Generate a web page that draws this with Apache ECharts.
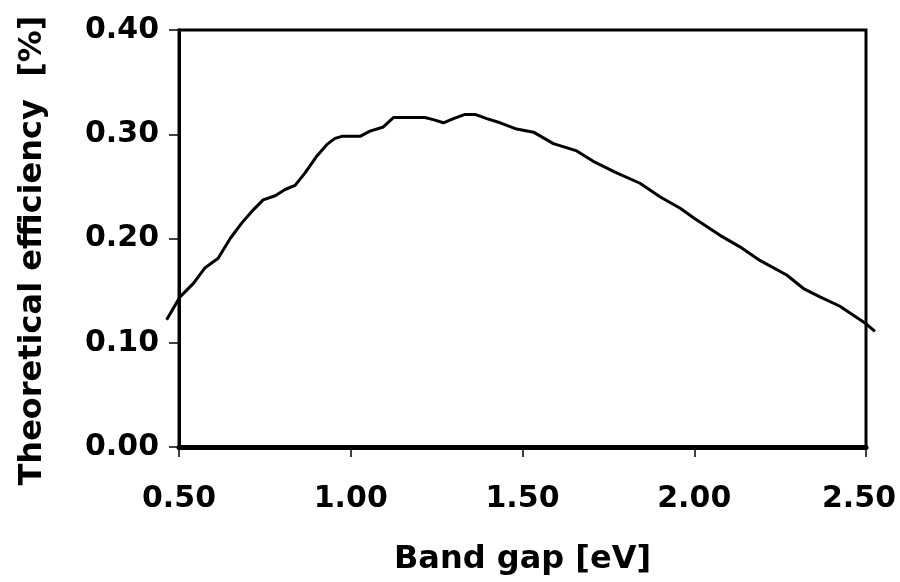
<!DOCTYPE html>
<html>
<head>
<meta charset="utf-8">
<script src="https://cdn.jsdelivr.net/npm/echarts@6/dist/echarts.min.js"></script>
<style>
html,body{margin:0;padding:0;background:#fff;}
#chart{width:900px;height:582px;}
</style>
</head>
<body>
<div id="chart"></div>
<script>
const bandGap = [0.464, 0.503, 0.542, 0.576, 0.614, 0.649, 0.683, 0.712, 0.745, 0.780, 0.809, 0.838, 0.867, 0.901, 0.930, 0.954, 0.974, 1.027, 1.056, 1.095, 1.124, 1.216, 1.240, 1.270, 1.299, 1.333, 1.362, 1.396, 1.435, 1.483, 1.532, 1.590, 1.658, 1.706, 1.774, 1.842, 1.900, 1.959, 2.002, 2.075, 2.133, 2.191, 2.269, 2.318, 2.366, 2.424, 2.497, 2.526];
const efficiency = [0.122, 0.144, 0.157, 0.172, 0.181, 0.200, 0.215, 0.226, 0.237, 0.241, 0.247, 0.251, 0.263, 0.279, 0.290, 0.296, 0.298, 0.298, 0.303, 0.307, 0.316, 0.316, 0.314, 0.311, 0.315, 0.319, 0.319, 0.315, 0.311, 0.305, 0.302, 0.291, 0.284, 0.274, 0.263, 0.253, 0.240, 0.229, 0.219, 0.203, 0.192, 0.179, 0.165, 0.152, 0.144, 0.135, 0.119, 0.111];
const xTitle = 'Band gap [eV]';
const yTitle = 'Theoretical efficiency  [%]';

const FONT = 'DejaVu Sans';
const chart = echarts.init(document.getElementById('chart'));
const data = bandGap.map((x, i) => [x, efficiency[i]]);

// visible frame: 0.5..2.5 over 687px; the curve overshoots the frame slightly,
// so it lives on an invisible, wider grid with the same scale.
const pxPerUnit = 687 / 2.0;
const extL = 13, extR = 12;
const labelFont = {fontFamily: FONT, fontWeight: 'bold', fontSize: 30, color: '#000'};
chart.setOption({
  animation: false,
  backgroundColor: '#fff',
  grid: [
    {left: 179, right: 34, top: 30, bottom: 135, show: true, borderColor: '#000', borderWidth: 3,
     backgroundColor: 'transparent', outerBoundsMode: 'none', containLabel: false},
    {left: 179 - extL, right: 34 - extR, top: 30, bottom: 135, show: false,
     outerBoundsMode: 'none', containLabel: false}
  ],
  xAxis: [{
    gridIndex: 0,
    type: 'value', min: 0.5, max: 2.5, interval: 0.5,
    splitLine: {show: false},
    name: xTitle, nameLocation: 'middle', nameGap: 97,
    nameTextStyle: {fontFamily: FONT, fontWeight: 'bold', fontSize: 32, color: '#000'},
    axisLine: {show: true, lineStyle: {color: '#000', width: 5}},
    axisTick: {show: true, inside: false, length: 10, lineStyle: {color: '#000', width: 1.5}},
    axisLabel: Object.assign({show: true, margin: 37,
      formatter: v => v === 2.5 ? '{last|' + v.toFixed(2) + '}' : v.toFixed(2),
      rich: {last: Object.assign({padding: [0, 14, 0, 0]}, labelFont)}
    }, labelFont)
  }, {
    gridIndex: 1, show: false,
    type: 'value', min: 0.5 - extL / pxPerUnit, max: 2.5 + extR / pxPerUnit,
    splitLine: {show: false}
  }],
  yAxis: [{
    gridIndex: 0,
    type: 'value', min: 0, max: 0.4, interval: 0.1,
    splitLine: {show: false},
    name: yTitle, nameLocation: 'middle', nameGap: 130,
    nameTextStyle: {fontFamily: FONT, fontWeight: 'bold', fontSize: 32, color: '#000', padding: [0, 24, 0, 0]},
    axisLine: {show: true, lineStyle: {color: '#000', width: 3}},
    axisTick: {show: true, inside: false, length: 10, lineStyle: {color: '#000', width: 1.5}},
    axisLabel: Object.assign({show: true, margin: 20, formatter: v => v.toFixed(2)}, labelFont)
  }, {
    gridIndex: 1, show: false,
    type: 'value', min: 0, max: 0.4,
    splitLine: {show: false}
  }],
  series: [{
    type: 'line',
    xAxisIndex: 1, yAxisIndex: 1,
    data: data,
    showSymbol: false,
    symbol: 'none',
    clip: false,
    lineStyle: {color: '#000', width: 3},
    z: 5
  }]
});
</script>
</body>
</html>
